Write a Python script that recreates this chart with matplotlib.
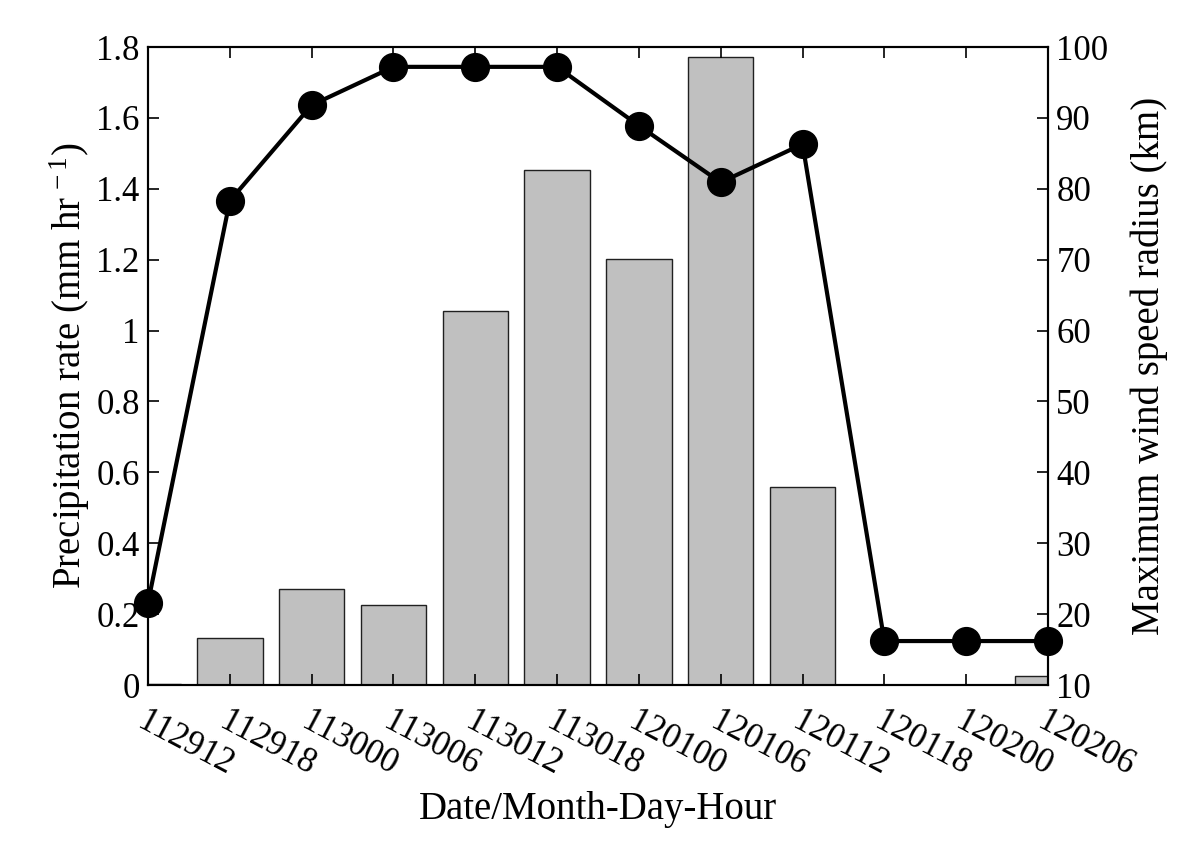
import matplotlib
matplotlib.use("Agg")
import matplotlib.pyplot as plt
import matplotlib.transforms as mtransforms

plt.rcParams['font.family'] = ['Liberation Serif', 'DejaVu Serif']
plt.rcParams['mathtext.fontset'] = 'custom'
plt.rcParams['mathtext.rm'] = 'Liberation Serif'
plt.rcParams['mathtext.it'] = 'Liberation Serif:italic'

categories = ['112912', '112918', '113000', '113006', '113012', '113018',
              '120100', '120106', '120112', '120118', '120200', '120206']
precip = [0.003, 0.134, 0.272, 0.227, 1.055, 1.453, 1.202, 1.772, 0.559, 0.0, 0.0, 0.026]
rmw = [21.6, 78.3, 91.8, 97.2, 97.2, 97.2, 88.9, 80.9, 86.3, 16.2, 16.2, 16.2]

fig = plt.figure(figsize=(12, 8.61), dpi=100)
ax = fig.add_axes([148/1200, 1-685/861, 900/1200, 638/861])
x = list(range(len(categories)))

ax.bar(x, precip, width=0.8, color='#c0c0c0', edgecolor='#202020', linewidth=1.0)
ax.set_xlim(0, len(categories) - 1)
ax.set_ylim(0, 1.8)
ax.set_yticks([0, 0.2, 0.4, 0.6, 0.8, 1.0, 1.2, 1.4, 1.6, 1.8])
ax.set_yticklabels(['0', '0.2', '0.4', '0.6', '0.8', '1', '1.2', '1.4', '1.6', '1.8'])
ax.set_xticks(x)
ax.set_xticklabels(categories, rotation=-28, ha='left', va='top', rotation_mode='anchor')
offset = mtransforms.ScaledTranslation(-6/100, 0, fig.dpi_scale_trans)
for lab in ax.get_xticklabels():
    lab.set_transform(lab.get_transform() + offset)
ax.tick_params(axis='x', direction='in', top=True, length=8, width=1.2, labelsize=25, pad=14)
ax.tick_params(axis='y', direction='in', length=8, width=1.2, labelsize=25, pad=6)
ax.set_xlabel('Date/Month-Day-Hour', fontsize=28, labelpad=6)
ax.set_ylabel('Precipitation rate (mm hr$^{\\mathregular{\\,-1}}$)', fontsize=28, labelpad=3)
for s in ax.spines.values():
    s.set_linewidth(1.5)

ax2 = ax.twinx()
ax2.plot(x, rmw, color='black', linewidth=3, marker='o', markersize=20,
         markerfacecolor='black', markeredgecolor='black', clip_on=False, zorder=5)
ax2.set_ylim(10, 100)
ax2.set_yticks(range(10, 101, 10))
ax2.tick_params(axis='y', direction='in', length=8, width=1.2, labelsize=25, pad=6)
ax2.set_ylabel('Maximum wind speed radius (km)', fontsize=28, labelpad=16)
for s in ax2.spines.values():
    s.set_linewidth(1.5)

fig.savefig('out.png', dpi=100)
